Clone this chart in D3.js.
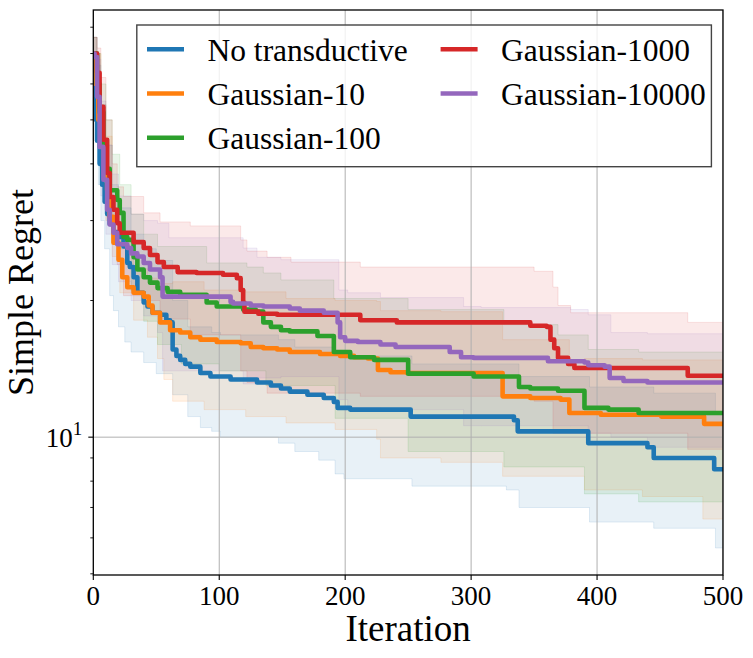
<!DOCTYPE html>
<html>
<head>
<meta charset="utf-8">
<script src="https://cdn.jsdelivr.net/npm/d3@7"></script>
<style>
  body { margin: 0; background: #fff; }
  text { font-family: "Liberation Serif", "Times New Roman", serif; fill: #000; }
</style>
</head>
<body>
<svg id="chart" width="753" height="658"></svg>
<script>
// ---- data (iteration, simple regret), step-after ----
const seriesNames = ['No transductive', 'Gaussian-10', 'Gaussian-100', 'Gaussian-1000', 'Gaussian-10000'];
const seriesColors = ['#1f77b4', '#ff7f0e', '#2ca02c', '#d62728', '#9467bd'];
const xTicks = [0, 100, 200, 300, 400, 500];
const yMajorTicks = [10];
const yMinorTicks = [5, 6, 7, 8, 9, 20, 30, 40, 50, 60, 70, 80];

const meanBlue = [[0,70],[1,58],[2,50],[3,45],[5,40],[7,36],[9,33],[11,31],[13,29.5],[16,28.3],[19,27.6],[24,26.3],[27,24.2],[29,23.7],[32,22.5],[35,20.8],[40,19.8],[43,19.4],[47,18.8],[53,18.6],[58,18.1],[61,17.9],[63,15.6],[66,15.1],[69,14.8],[73,14.5],[77,14.3],[85,13.85],[93,13.6],[109,13.4],[130,13.2],[141,13.0],[149,12.8],[156,12.6],[170,12.4],[183,12.2],[191,11.96],[194,11.6],[204,11.5],[252,11.1],[334,10.9],[337,10.3],[393,9.7],[440,9.5],[445,9.0],[493,8.5]];
const lowerBlue = [[0,64],[2,45],[4,36],[6,30],[9,26],[13,20.5],[16,19],[20,17.5],[25,16.2],[30,15.4],[40,14.6],[50,13.8],[63,12.4],[75,11.1],[85,10.5],[94,10.3],[101,10.0],[147,9.7],[160,9.3],[179,8.9],[192,8.3],[199,8.1],[253,7.8],[328,7.65],[338,7.0],[394,6.5],[445,6.3],[494,5.7]];
const upperBlue = [[0,76],[3,66],[6,54],[10,44],[15,36],[20,32],[30,28],[40,26],[50,24.5],[63,20],[75,17.5],[94,17],[101,16.8],[147,16.4],[160,15.8],[192,15.4],[199,15.1],[253,14.5],[338,13.6],[394,12.9],[445,12.5],[494,11.3]];

const meanOrange = [[0,70],[2,60],[4,50],[6,44],[9,38],[11,35],[13,30.6],[16,26.8],[20,24.6],[23,22.5],[27,21.4],[32,20.8],[40,20.4],[44,19.5],[47,18.8],[53,17.9],[61,17.2],[69,17.0],[77,16.6],[85,16.4],[98,16.2],[117,16.1],[125,15.8],[135,15.7],[146,15.6],[156,15.4],[180,15.25],[196,15.1],[207,15.0],[218,14.9],[226,14.06],[236,13.9],[249,13.85],[325,12.3],[347,12.2],[371,12.1],[378,11.3],[403,11.2],[451,11.1],[485,10.7]];
const lowerOrange = [[0,64],[3,48],[6,38],[10,30],[15,25],[21,20.8],[32,18.1],[43,16.6],[51,14.9],[56,13.4],[63,12.0],[88,11.5],[121,11.1],[153,10.75],[192,10.4],[225,9.9],[228,9.0],[276,8.8],[325,8.2],[390,7.65],[436,7.4],[484,6.6]];
const upperOrange = [[0,76],[3,70],[6,54],[10,46],[15,33],[21,27.5],[32,23.5],[43,22.4],[51,21.8],[63,22],[88,21.1],[121,20.9],[153,20.2],[192,20.0],[225,19.9],[228,19.0],[276,18.9],[325,16.4],[378,14.4],[390,14.9],[436,14.8]];

const meanGreen = [[0,70],[3,60],[5,52],[8,41.4],[10,39],[13,35],[19,33.3],[21,31.2],[24,27.6],[27,27.2],[32,24.9],[35,23.4],[40,22.5],[45,21.9],[51,21.3],[59,20.9],[69,20.6],[90,19.8],[98,19.4],[119,19.1],[129,18.9],[135,17.9],[141,17.5],[149,17.2],[156,17.1],[178,16.7],[191,15.4],[204,15.0],[223,14.8],[250,13.8],[302,13.6],[338,12.9],[347,12.8],[369,12.65],[390,11.6],[409,11.5],[433,11.3]];
const lowerGreen = [[0,64],[3,50],[6,42],[10,36],[15,30],[21,26],[30,21],[40,18],[51,16],[70,14.5],[100,14],[137,13.0],[192,11.0],[250,9.3],[326,8.6],[390,7.5],[433,7.2]];
const upperGreen = [[0,76],[3,70],[6,60],[10,50],[15,42],[21,36],[30,31],[40,28],[51,26.3],[90,24.2],[122,23.7],[135,23.0],[149,22.2],[191,20.2],[250,19.1],[326,17.7],[369,16.8],[393,15.6],[433,15.4]];

const meanRed = [[0,70],[3,63.5],[5,53.4],[8,45.2],[11,38.2],[13,33.8],[16,31.7],[19,29.6],[21,28.2],[32,26.9],[40,26.1],[45,25.2],[51,24.3],[56,23.7],[67,23.1],[82,23.0],[103,22.8],[114,22.4],[117,21.1],[119,19.8],[120,18.9],[131,18.7],[146,18.6],[212,18.1],[241,17.9],[347,17.6],[360,17.5],[363,16.4],[366,15.7],[369,14.95],[377,14.5],[382,14.2],[472,13.65]];
const lowerRed = [[0,64],[3,55],[6,45],[10,38],[15,30],[19,24],[24,20.5],[40,20],[53,18.2],[77,16.8],[117,14],[122,13.2],[138,12.5],[212,12.3],[350,12.0],[365,10.2],[472,9.4]];
const upperRed = [[0,76],[3,72],[6,62],[10,50],[15,40],[19,35.6],[24,33.9],[40,31.2],[53,29.8],[77,29.2],[117,27.2],[122,25.7],[138,24.9],[157,24.3],[212,23.7],[350,23.2],[365,21.4],[369,19.5],[379,18.8],[472,17.9]];

const meanPurple = [[0,70],[1,68.8],[3,56.2],[5,43.6],[8,36.9],[11,31.7],[13,29.4],[16,28.2],[19,26.6],[27,26.1],[30,25.4],[35,25.0],[40,24.2],[45,23.4],[53,22.5],[55,20.4],[109,19.86],[111,19.7],[125,19.5],[135,19.4],[156,19.2],[164,19.0],[183,18.8],[194,17.9],[196,16.6],[200,16.3],[210,16.2],[228,16.0],[240,15.8],[283,15.4],[292,15.0],[302,14.95],[361,14.7],[390,14.6],[393,14.4],[406,14.3],[410,13.5],[421,13.3],[440,13.2]];
const lowerPurple = [[0,64],[3,46],[6,34],[10,28],[15,24],[20,22],[30,20],[40,18.5],[51,17],[55,14],[119,13.1],[130,13.5],[149,13.6],[195,12.1],[202,11.6],[228,11.5],[294,10.6],[393,10.2],[411,10.0],[440,9.5]];
const upperPurple = [[0,76],[3,68],[6,55],[10,44],[15,38],[20,34],[30,31],[40,30],[51,29.6],[60,27.5],[119,26.1],[130,24.9],[149,24.6],[195,21.1],[202,20.8],[228,20.3],[294,19.4],[308,19.3],[379,19.1],[393,18.6],[411,17.0],[440,16.9]];

const means = [meanBlue, meanOrange, meanGreen, meanRed, meanPurple];
const lowers = [lowerBlue, lowerOrange, lowerGreen, lowerRed, lowerPurple];
const uppers = [upperBlue, upperOrange, upperGreen, upperRed, upperPurple];

// ---- layout ----
const plot = { left: 93.3, right: 723, top: 10, bottom: 575 };
const xMax = 500;

const svg = d3.select('#chart');
const x = d3.scaleLinear().domain([0, xMax]).range([plot.left, plot.right]);
const y = d3.scaleLog().domain([4.97, 87.3]).range([plot.bottom, plot.top]);

svg.append('defs').append('clipPath').attr('id', 'clip')
  .append('rect')
  .attr('x', plot.left).attr('y', plot.top)
  .attr('width', plot.right - plot.left).attr('height', plot.bottom - plot.top);

// value of a step-after series at iteration t
function stepAt(arr, t) {
  let v = arr[0][1];
  for (const [i, val] of arr) {
    if (i <= t) v = val; else break;
  }
  return v;
}

function bandPoints(lo, hi) {
  const ts = Array.from(new Set(lo.map(d => d[0]).concat(hi.map(d => d[0])))).sort((a, b) => a - b);
  ts.push(xMax);
  return ts.map(t => ({ t, lo: stepAt(lo, t), hi: stepAt(hi, t) }));
}

const plotG = svg.append('g').attr('clip-path', 'url(#clip)');

// bands
const area = d3.area()
  .x(d => x(d.t))
  .y0(d => y(d.lo))
  .y1(d => y(d.hi))
  .curve(d3.curveStepAfter);

lowers.forEach((lo, k) => {
  plotG.append('path')
    .attr('d', area(bandPoints(lo, uppers[k])))
    .attr('fill', seriesColors[k])
    .attr('fill-opacity', 0.1)
    .attr('stroke', seriesColors[k])
    .attr('stroke-opacity', 0.12)
    .attr('stroke-width', 1);
});

// grid
plotG.selectAll('.vgrid').data(xTicks).enter().append('line')
  .attr('x1', d => x(d)).attr('x2', d => x(d))
  .attr('y1', plot.top).attr('y2', plot.bottom)
  .attr('stroke', '#b0b0b0').attr('stroke-width', 1);
plotG.selectAll('.hgrid').data(yMajorTicks).enter().append('line')
  .attr('x1', plot.left).attr('x2', plot.right)
  .attr('y1', d => y(d)).attr('y2', d => y(d))
  .attr('stroke', '#b0b0b0').attr('stroke-width', 1);

// mean lines
const line = d3.line()
  .x(d => x(d[0]))
  .y(d => y(d[1]))
  .curve(d3.curveStepAfter);

means.forEach((m, k) => {
  const pts = m.concat([[xMax, m[m.length - 1][1]]]);
  plotG.append('path')
    .attr('d', line(pts))
    .attr('fill', 'none')
    .attr('stroke', seriesColors[k])
    .attr('stroke-width', 4.6)
    .attr('stroke-linejoin', 'round');
});

// frame
svg.append('rect')
  .attr('x', plot.left).attr('y', plot.top)
  .attr('width', plot.right - plot.left).attr('height', plot.bottom - plot.top)
  .attr('fill', 'none').attr('stroke', '#000').attr('stroke-width', 1.3);

// x ticks
const xAxis = svg.append('g');
xAxis.selectAll('line').data(xTicks).enter().append('line')
  .attr('x1', d => x(d)).attr('x2', d => x(d))
  .attr('y1', plot.bottom).attr('y2', plot.bottom + 5)
  .attr('stroke', '#000').attr('stroke-width', 1.1);
xAxis.selectAll('text').data(xTicks).enter().append('text')
  .attr('x', d => x(d)).attr('y', plot.bottom + 30)
  .attr('text-anchor', 'middle')
  .attr('font-size', 27)
  .text(d => d);

// y ticks
const yAxis = svg.append('g');
yAxis.selectAll('.major').data(yMajorTicks).enter().append('line')
  .attr('x1', plot.left - 5).attr('x2', plot.left)
  .attr('y1', d => y(d)).attr('y2', d => y(d))
  .attr('stroke', '#000').attr('stroke-width', 1.1);
yAxis.selectAll('.minor').data(yMinorTicks).enter().append('line')
  .attr('x1', plot.left - 3).attr('x2', plot.left)
  .attr('y1', d => y(d)).attr('y2', d => y(d))
  .attr('stroke', '#000').attr('stroke-width', 0.9);
yMajorTicks.forEach(v => {
  const exp = Math.round(Math.log10(v));
  const t = yAxis.append('text')
    .attr('x', plot.left - 11).attr('y', y(v) + 10)
    .attr('text-anchor', 'end')
    .attr('font-size', 27);
  t.append('tspan').text('10');
  t.append('tspan').attr('font-size', 19).attr('dy', -12).text(exp);
});

// axis labels
svg.append('text')
  .attr('x', (plot.left + plot.right) / 2).attr('y', 641)
  .attr('text-anchor', 'middle')
  .attr('font-size', 37)
  .text('Iteration');
svg.append('text')
  .attr('transform', `translate(33,${(plot.top + plot.bottom) / 2}) rotate(-90)`)
  .attr('text-anchor', 'middle')
  .attr('font-size', 36)
  .text('Simple Regret');

// legend
const legend = svg.append('g');
legend.append('rect')
  .attr('x', 136.8).attr('y', 25)
  .attr('width', 574.6).attr('height', 141.7)
  .attr('fill', '#fff').attr('fill-opacity', 0.8)
  .attr('stroke', '#444').attr('stroke-width', 1.4);

const legendCols = [147, 440.6];
const legendRows = [49.3, 93.5, 137.7];
seriesNames.forEach((name, k) => {
  const col = k < 3 ? 0 : 1;
  const row = k < 3 ? k : k - 3;
  const lx = legendCols[col], ly = legendRows[row];
  legend.append('line')
    .attr('x1', lx).attr('x2', lx + 37)
    .attr('y1', ly).attr('y2', ly)
    .attr('stroke', seriesColors[k]).attr('stroke-width', 4.6);
  legend.append('text')
    .attr('x', lx + 60.5).attr('y', ly + 11.5)
    .attr('font-size', 31.5)
    .text(name);
});
</script>
</body>
</html>
